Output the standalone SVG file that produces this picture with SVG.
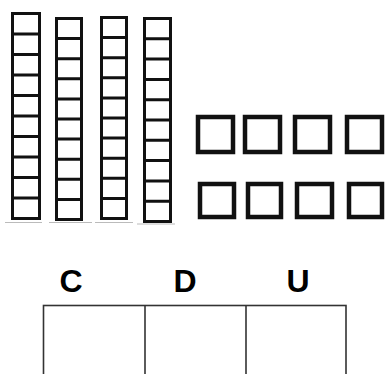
<svg xmlns="http://www.w3.org/2000/svg" width="387" height="374" viewBox="0 0 387 374">
<style>
.rod{fill:#fff;stroke:#111;stroke-width:3}
.div{stroke:#111;stroke-width:3}
.base{stroke:#bbb;stroke-width:1.2}
.unit{fill:#fff;stroke:#111;stroke-width:4.5}
.tbl{fill:none;stroke:#333;stroke-width:1.6}
.lbl{font-family:"Liberation Sans",Arial,sans-serif;font-weight:bold;font-size:32px;fill:#000;text-anchor:middle}
</style>
<rect width="387" height="374" fill="#fff"/>
<g id="rod1">
<line class="base" x1="5" y1="222.5" x2="42" y2="222.5"/>
<rect class="rod" x="12.5" y="13.5" width="27" height="205"/>
<path class="div" d="M12.5 34H39.5M12.5 54.5H39.5M12.5 75H39.5M12.5 95.5H39.5M12.5 116H39.5M12.5 136.5H39.5M12.5 157H39.5M12.5 177.5H39.5M12.5 198H39.5"/>
</g>
<g id="rod2">
<line class="base" x1="49" y1="222.5" x2="92" y2="222.5"/>
<rect class="rod" x="56.5" y="18.5" width="25" height="201"/>
<path class="div" d="M56.5 38.6H81.5M56.5 58.7H81.5M56.5 78.8H81.5M56.5 98.9H81.5M56.5 119H81.5M56.5 139.1H81.5M56.5 159.2H81.5M56.5 179.3H81.5M56.5 199.4H81.5"/>
</g>
<g id="rod3">
<line class="base" x1="95" y1="222.5" x2="133" y2="222.5"/>
<rect class="rod" x="101.5" y="17.5" width="25" height="201"/>
<path class="div" d="M101.5 37.6H126.5M101.5 57.7H126.5M101.5 77.8H126.5M101.5 97.9H126.5M101.5 118H126.5M101.5 138.1H126.5M101.5 158.2H126.5M101.5 178.3H126.5M101.5 198.4H126.5"/>
</g>
<g id="rod4">
<line class="base" x1="137" y1="224" x2="175" y2="224"/>
<rect class="rod" x="144.5" y="18.5" width="26" height="203"/>
<path class="div" d="M144.5 38.8H170.5M144.5 59.1H170.5M144.5 79.4H170.5M144.5 99.7H170.5M144.5 120H170.5M144.5 140.3H170.5M144.5 160.6H170.5M144.5 180.9H170.5M144.5 201.2H170.5"/>
</g>
<g id="units">
<rect class="unit" x="198" y="117" width="35" height="35"/>
<rect class="unit" x="245" y="117" width="35" height="35"/>
<rect class="unit" x="295" y="117" width="35" height="35"/>
<rect class="unit" x="347" y="117" width="35" height="35"/>
<rect class="unit" x="200" y="184" width="34" height="33"/>
<rect class="unit" x="248" y="184" width="33" height="33"/>
<rect class="unit" x="297" y="184" width="35" height="33"/>
<rect class="unit" x="349" y="184" width="33" height="33"/>
</g>
<g id="table">
<rect class="tbl" x="43.5" y="305.5" width="302.5" height="80"/>
<line class="tbl" x1="145" y1="305.5" x2="145" y2="374"/>
<line class="tbl" x1="246" y1="305.5" x2="246" y2="374"/>
<text class="lbl" x="71" y="292">C</text>
<text class="lbl" x="185" y="292">D</text>
<text class="lbl" x="298" y="292">U</text>
</g>
</svg>
